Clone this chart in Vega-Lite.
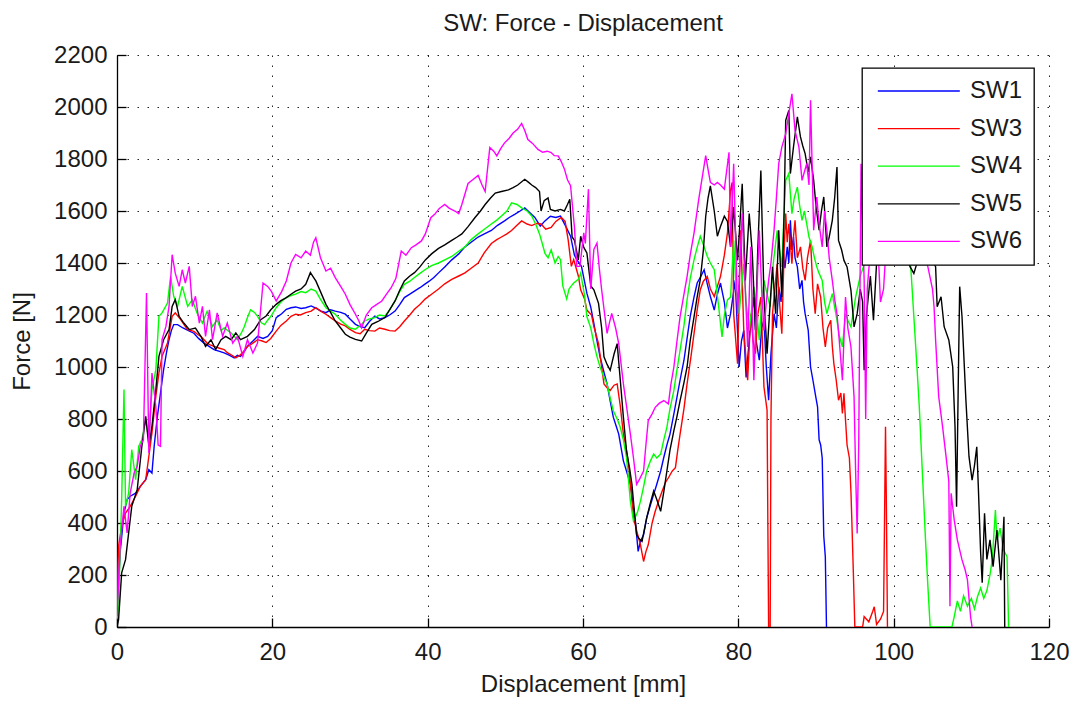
{
  "$schema": "https://vega.github.io/schema/vega-lite/v6.json",
  "width": 932,
  "height": 572,
  "autosize": {"type": "none"},
  "padding": {"left": 117, "top": 55, "right": 27, "bottom": 74},
  "background": "white",
  "title": {"text": "SW: Force - Displacement", "font": "Liberation Sans", "fontSize": 24, "fontWeight": "normal", "color": "#1a1a1a", "anchor": "middle", "frame": "group", "offset": 7},
  "data": {"values": [
    {"s":"SW1","d":0,"f":60},{"s":"SW1","d":0.2,"f":160},{"s":"SW1","d":0.4,"f":285},{"s":"SW1","d":0.9,"f":438},{"s":"SW1","d":1.3,"f":490},{"s":"SW1","d":1.7,"f":503},{"s":"SW1","d":2.4,"f":515},{"s":"SW1","d":3.0,"f":541},{"s":"SW1","d":3.7,"f":567},{"s":"SW1","d":4.1,"f":605},{"s":"SW1","d":4.5,"f":592},{"s":"SW1","d":4.8,"f":700},{"s":"SW1","d":5.2,"f":810},{"s":"SW1","d":5.6,"f":900},{"s":"SW1","d":6.0,"f":990},{"s":"SW1","d":6.4,"f":1060},{"s":"SW1","d":6.7,"f":1105},{"s":"SW1","d":7.0,"f":1140},{"s":"SW1","d":7.3,"f":1163},{"s":"SW1","d":7.8,"f":1163},{"s":"SW1","d":8.5,"f":1150},{"s":"SW1","d":9.2,"f":1140},{"s":"SW1","d":9.9,"f":1130},{"s":"SW1","d":10.5,"f":1110},{"s":"SW1","d":11.2,"f":1092},{"s":"SW1","d":11.8,"f":1080},{"s":"SW1","d":12.5,"f":1067},{"s":"SW1","d":13.2,"f":1060},{"s":"SW1","d":13.8,"f":1054},{"s":"SW1","d":14.5,"f":1045},{"s":"SW1","d":15.1,"f":1035},{"s":"SW1","d":15.5,"f":1045},{"s":"SW1","d":15.9,"f":1041},{"s":"SW1","d":16.4,"f":1060},{"s":"SW1","d":16.8,"f":1080},{"s":"SW1","d":17.5,"f":1100},{"s":"SW1","d":18.1,"f":1118},{"s":"SW1","d":18.8,"f":1110},{"s":"SW1","d":19.4,"f":1118},{"s":"SW1","d":20.0,"f":1140},{"s":"SW1","d":20.5,"f":1190},{"s":"SW1","d":21.2,"f":1205},{"s":"SW1","d":21.8,"f":1222},{"s":"SW1","d":22.4,"f":1228},{"s":"SW1","d":23.0,"f":1231},{"s":"SW1","d":23.7,"f":1225},{"s":"SW1","d":24.3,"f":1228},{"s":"SW1","d":25.0,"f":1235},{"s":"SW1","d":25.6,"f":1226},{"s":"SW1","d":26.3,"f":1215},{"s":"SW1","d":26.9,"f":1209},{"s":"SW1","d":27.5,"f":1220},{"s":"SW1","d":28.1,"f":1215},{"s":"SW1","d":28.8,"f":1210},{"s":"SW1","d":29.4,"f":1203},{"s":"SW1","d":30.0,"f":1185},{"s":"SW1","d":30.7,"f":1164},{"s":"SW1","d":31.3,"f":1155},{"s":"SW1","d":31.9,"f":1151},{"s":"SW1","d":32.5,"f":1175},{"s":"SW1","d":33.2,"f":1196},{"s":"SW1","d":33.8,"f":1185},{"s":"SW1","d":34.5,"f":1190},{"s":"SW1","d":35.1,"f":1200},{"s":"SW1","d":35.8,"f":1215},{"s":"SW1","d":36.4,"f":1240},{"s":"SW1","d":37.0,"f":1267},{"s":"SW1","d":37.7,"f":1280},{"s":"SW1","d":38.3,"f":1292},{"s":"SW1","d":39.0,"f":1305},{"s":"SW1","d":39.6,"f":1318},{"s":"SW1","d":40.2,"f":1330},{"s":"SW1","d":40.8,"f":1344},{"s":"SW1","d":41.4,"f":1362},{"s":"SW1","d":42.2,"f":1385},{"s":"SW1","d":43.1,"f":1412},{"s":"SW1","d":44.0,"f":1435},{"s":"SW1","d":44.8,"f":1462},{"s":"SW1","d":45.6,"f":1480},{"s":"SW1","d":46.5,"f":1500},{"s":"SW1","d":47.3,"f":1512},{"s":"SW1","d":48.2,"f":1525},{"s":"SW1","d":49.0,"f":1545},{"s":"SW1","d":49.9,"f":1562},{"s":"SW1","d":50.5,"f":1575},{"s":"SW1","d":51.2,"f":1587},{"s":"SW1","d":51.9,"f":1600},{"s":"SW1","d":52.5,"f":1612},{"s":"SW1","d":53.1,"f":1595},{"s":"SW1","d":53.8,"f":1575},{"s":"SW1","d":54.5,"f":1542},{"s":"SW1","d":55.1,"f":1562},{"s":"SW1","d":55.8,"f":1580},{"s":"SW1","d":56.5,"f":1575},{"s":"SW1","d":57.1,"f":1580},{"s":"SW1","d":57.8,"f":1540},{"s":"SW1","d":58.4,"f":1503},{"s":"SW1","d":58.9,"f":1430},{"s":"SW1","d":59.2,"f":1413},{"s":"SW1","d":59.8,"f":1387},{"s":"SW1","d":60.5,"f":1284},{"s":"SW1","d":61.0,"f":1230},{"s":"SW1","d":61.4,"f":1168},{"s":"SW1","d":61.8,"f":1100},{"s":"SW1","d":62.2,"f":1039},{"s":"SW1","d":62.7,"f":980},{"s":"SW1","d":63.1,"f":935},{"s":"SW1","d":63.5,"f":870},{"s":"SW1","d":63.9,"f":807},{"s":"SW1","d":64.3,"f":770},{"s":"SW1","d":64.6,"f":742},{"s":"SW1","d":65.2,"f":639},{"s":"SW1","d":65.6,"f":600},{"s":"SW1","d":66.1,"f":549},{"s":"SW1","d":66.4,"f":480},{"s":"SW1","d":66.7,"f":420},{"s":"SW1","d":67.1,"f":291},{"s":"SW1","d":67.4,"f":330},{"s":"SW1","d":67.8,"f":355},{"s":"SW1","d":68.2,"f":420},{"s":"SW1","d":68.7,"f":471},{"s":"SW1","d":69.1,"f":510},{"s":"SW1","d":69.5,"f":549},{"s":"SW1","d":70.0,"f":600},{"s":"SW1","d":70.4,"f":652},{"s":"SW1","d":70.8,"f":700},{"s":"SW1","d":71.2,"f":742},{"s":"SW1","d":71.7,"f":820},{"s":"SW1","d":72.1,"f":884},{"s":"SW1","d":72.5,"f":950},{"s":"SW1","d":73.0,"f":1026},{"s":"SW1","d":73.4,"f":1110},{"s":"SW1","d":73.8,"f":1194},{"s":"SW1","d":74.3,"f":1270},{"s":"SW1","d":74.7,"f":1323},{"s":"SW1","d":75.2,"f":1350},{"s":"SW1","d":75.6,"f":1374},{"s":"SW1","d":76.0,"f":1320},{"s":"SW1","d":76.4,"f":1271},{"s":"SW1","d":76.9,"f":1219},{"s":"SW1","d":77.3,"f":1280},{"s":"SW1","d":77.7,"f":1323},{"s":"SW1","d":78.2,"f":1250},{"s":"SW1","d":78.6,"f":1150},{"s":"SW1","d":79.0,"f":1205},{"s":"SW1","d":79.6,"f":1333},{"s":"SW1","d":80.1,"f":1000},{"s":"SW1","d":80.4,"f":1100},{"s":"SW1","d":80.7,"f":1141},{"s":"SW1","d":81.0,"f":960},{"s":"SW1","d":81.4,"f":1103},{"s":"SW1","d":81.7,"f":1200},{"s":"SW1","d":82.0,"f":1269},{"s":"SW1","d":82.3,"f":1100},{"s":"SW1","d":82.7,"f":1026},{"s":"SW1","d":83.0,"f":1150},{"s":"SW1","d":83.3,"f":1180},{"s":"SW1","d":83.6,"f":1000},{"s":"SW1","d":83.9,"f":872},{"s":"SW1","d":84.2,"f":1050},{"s":"SW1","d":84.6,"f":1205},{"s":"SW1","d":84.9,"f":1150},{"s":"SW1","d":85.2,"f":1308},{"s":"SW1","d":85.5,"f":1250},{"s":"SW1","d":85.8,"f":1436},{"s":"SW1","d":86.0,"f":1380},{"s":"SW1","d":86.3,"f":1462},{"s":"SW1","d":86.5,"f":1400},{"s":"SW1","d":86.7,"f":1564},{"s":"SW1","d":86.9,"f":1450},{"s":"SW1","d":87.1,"f":1500},{"s":"SW1","d":87.3,"f":1420},{"s":"SW1","d":87.6,"f":1385},{"s":"SW1","d":87.9,"f":1300},{"s":"SW1","d":88.2,"f":1333},{"s":"SW1","d":88.4,"f":1250},{"s":"SW1","d":88.6,"f":1205},{"s":"SW1","d":89.0,"f":1141},{"s":"SW1","d":89.3,"f":1000},{"s":"SW1","d":89.6,"f":950},{"s":"SW1","d":90.0,"f":880},{"s":"SW1","d":90.2,"f":847},{"s":"SW1","d":90.4,"f":720},{"s":"SW1","d":90.6,"f":700},{"s":"SW1","d":90.8,"f":650},{"s":"SW1","d":91.0,"f":350},{"s":"SW1","d":91.2,"f":270},{"s":"SW1","d":91.35,"f":0},

    {"s":"SW3","d":0,"f":105},{"s":"SW3","d":0.2,"f":310},{"s":"SW3","d":0.6,"f":387},{"s":"SW3","d":1.1,"f":438},{"s":"SW3","d":1.7,"f":464},{"s":"SW3","d":2.4,"f":503},{"s":"SW3","d":3.0,"f":541},{"s":"SW3","d":3.7,"f":567},{"s":"SW3","d":4.1,"f":656},{"s":"SW3","d":4.5,"f":746},{"s":"SW3","d":5.0,"f":887},{"s":"SW3","d":5.4,"f":977},{"s":"SW3","d":5.8,"f":1041},{"s":"SW3","d":6.5,"f":1092},{"s":"SW3","d":7.1,"f":1195},{"s":"SW3","d":7.5,"f":1208},{"s":"SW3","d":8.2,"f":1182},{"s":"SW3","d":8.7,"f":1160},{"s":"SW3","d":9.1,"f":1144},{"s":"SW3","d":9.9,"f":1137},{"s":"SW3","d":10.4,"f":1125},{"s":"SW3","d":10.8,"f":1118},{"s":"SW3","d":11.6,"f":1092},{"s":"SW3","d":12.0,"f":1085},{"s":"SW3","d":12.5,"f":1079},{"s":"SW3","d":13.2,"f":1072},{"s":"SW3","d":13.8,"f":1067},{"s":"SW3","d":14.2,"f":1055},{"s":"SW3","d":14.7,"f":1047},{"s":"SW3","d":15.3,"f":1035},{"s":"SW3","d":15.9,"f":1047},{"s":"SW3","d":16.3,"f":1060},{"s":"SW3","d":16.8,"f":1079},{"s":"SW3","d":17.4,"f":1090},{"s":"SW3","d":18.1,"f":1105},{"s":"SW3","d":18.7,"f":1100},{"s":"SW3","d":19.2,"f":1094},{"s":"SW3","d":19.8,"f":1110},{"s":"SW3","d":20.5,"f":1138},{"s":"SW3","d":21.1,"f":1160},{"s":"SW3","d":21.8,"f":1177},{"s":"SW3","d":22.4,"f":1195},{"s":"SW3","d":23.0,"f":1203},{"s":"SW3","d":23.6,"f":1200},{"s":"SW3","d":24.3,"f":1209},{"s":"SW3","d":25.0,"f":1215},{"s":"SW3","d":25.6,"f":1228},{"s":"SW3","d":26.2,"f":1215},{"s":"SW3","d":26.9,"f":1203},{"s":"SW3","d":27.5,"f":1190},{"s":"SW3","d":28.1,"f":1177},{"s":"SW3","d":28.8,"f":1165},{"s":"SW3","d":29.4,"f":1158},{"s":"SW3","d":30.0,"f":1145},{"s":"SW3","d":30.7,"f":1132},{"s":"SW3","d":31.3,"f":1128},{"s":"SW3","d":31.9,"f":1145},{"s":"SW3","d":32.5,"f":1140},{"s":"SW3","d":33.2,"f":1138},{"s":"SW3","d":33.8,"f":1150},{"s":"SW3","d":34.5,"f":1145},{"s":"SW3","d":35.1,"f":1140},{"s":"SW3","d":35.8,"f":1138},{"s":"SW3","d":36.4,"f":1155},{"s":"SW3","d":37.0,"f":1177},{"s":"SW3","d":37.7,"f":1200},{"s":"SW3","d":38.3,"f":1222},{"s":"SW3","d":39.0,"f":1240},{"s":"SW3","d":39.7,"f":1262},{"s":"SW3","d":40.5,"f":1280},{"s":"SW3","d":41.4,"f":1300},{"s":"SW3","d":42.2,"f":1320},{"s":"SW3","d":43.1,"f":1337},{"s":"SW3","d":44.0,"f":1350},{"s":"SW3","d":44.8,"f":1362},{"s":"SW3","d":45.6,"f":1380},{"s":"SW3","d":46.5,"f":1400},{"s":"SW3","d":47.3,"f":1440},{"s":"SW3","d":48.2,"f":1475},{"s":"SW3","d":48.9,"f":1490},{"s":"SW3","d":49.5,"f":1500},{"s":"SW3","d":50.2,"f":1512},{"s":"SW3","d":50.8,"f":1525},{"s":"SW3","d":51.5,"f":1545},{"s":"SW3","d":52.1,"f":1562},{"s":"SW3","d":52.8,"f":1550},{"s":"SW3","d":53.4,"f":1544},{"s":"SW3","d":54.0,"f":1552},{"s":"SW3","d":54.6,"f":1550},{"s":"SW3","d":55.2,"f":1530},{"s":"SW3","d":55.9,"f":1537},{"s":"SW3","d":56.5,"f":1560},{"s":"SW3","d":57.2,"f":1575},{"s":"SW3","d":57.7,"f":1560},{"s":"SW3","d":58.1,"f":1487},{"s":"SW3","d":58.5,"f":1387},{"s":"SW3","d":58.8,"f":1413},{"s":"SW3","d":59.4,"f":1350},{"s":"SW3","d":59.7,"f":1297},{"s":"SW3","d":60.2,"f":1262},{"s":"SW3","d":60.5,"f":1219},{"s":"SW3","d":61.1,"f":1200},{"s":"SW3","d":61.4,"f":1155},{"s":"SW3","d":62.0,"f":1090},{"s":"SW3","d":62.4,"f":1000},{"s":"SW3","d":62.7,"f":935},{"s":"SW3","d":63.1,"f":920},{"s":"SW3","d":63.5,"f":910},{"s":"SW3","d":64.0,"f":930},{"s":"SW3","d":64.4,"f":935},{"s":"SW3","d":64.8,"f":850},{"s":"SW3","d":65.2,"f":742},{"s":"SW3","d":65.6,"f":680},{"s":"SW3","d":65.9,"f":613},{"s":"SW3","d":66.2,"f":520},{"s":"SW3","d":66.5,"f":420},{"s":"SW3","d":67.0,"f":360},{"s":"SW3","d":67.4,"f":316},{"s":"SW3","d":67.8,"f":252},{"s":"SW3","d":68.1,"f":290},{"s":"SW3","d":68.4,"f":316},{"s":"SW3","d":68.9,"f":400},{"s":"SW3","d":69.3,"f":445},{"s":"SW3","d":69.8,"f":490},{"s":"SW3","d":70.2,"f":523},{"s":"SW3","d":70.6,"f":555},{"s":"SW3","d":71.0,"f":574},{"s":"SW3","d":71.5,"f":600},{"s":"SW3","d":71.9,"f":613},{"s":"SW3","d":72.2,"f":680},{"s":"SW3","d":72.5,"f":742},{"s":"SW3","d":73.0,"f":840},{"s":"SW3","d":73.4,"f":935},{"s":"SW3","d":73.9,"f":1040},{"s":"SW3","d":74.3,"f":1129},{"s":"SW3","d":74.7,"f":1220},{"s":"SW3","d":75.1,"f":1297},{"s":"SW3","d":75.5,"f":1330},{"s":"SW3","d":76.0,"f":1348},{"s":"SW3","d":76.4,"f":1300},{"s":"SW3","d":76.9,"f":1271},{"s":"SW3","d":77.3,"f":1310},{"s":"SW3","d":77.7,"f":1348},{"s":"SW3","d":78.2,"f":1430},{"s":"SW3","d":78.6,"f":1516},{"s":"SW3","d":79.0,"f":1680},{"s":"SW3","d":79.2,"f":1710},{"s":"SW3","d":79.4,"f":1205},{"s":"SW3","d":79.9,"f":1013},{"s":"SW3","d":80.3,"f":1526},{"s":"SW3","d":80.7,"f":1141},{"s":"SW3","d":81.2,"f":949},{"s":"SW3","d":81.6,"f":1205},{"s":"SW3","d":81.9,"f":1100},{"s":"SW3","d":82.2,"f":1051},{"s":"SW3","d":82.5,"f":1200},{"s":"SW3","d":82.9,"f":1269},{"s":"SW3","d":83.3,"f":923},{"s":"SW3","d":83.7,"f":834},{"s":"SW3","d":83.8,"f":400},{"s":"SW3","d":83.9,"f":0},{"s":"SW3","d":84.1,"f":0},{"s":"SW3","d":84.2,"f":800},{"s":"SW3","d":84.4,"f":1205},{"s":"SW3","d":84.7,"f":1300},{"s":"SW3","d":85.0,"f":1397},{"s":"SW3","d":85.3,"f":1250},{"s":"SW3","d":85.6,"f":1128},{"s":"SW3","d":85.9,"f":1450},{"s":"SW3","d":86.1,"f":1590},{"s":"SW3","d":86.3,"f":1480},{"s":"SW3","d":86.5,"f":1551},{"s":"SW3","d":86.9,"f":1397},{"s":"SW3","d":87.1,"f":1500},{"s":"SW3","d":87.3,"f":1564},{"s":"SW3","d":87.6,"f":1420},{"s":"SW3","d":88.0,"f":1462},{"s":"SW3","d":88.3,"f":1380},{"s":"SW3","d":88.6,"f":1333},{"s":"SW3","d":88.9,"f":1420},{"s":"SW3","d":89.3,"f":1487},{"s":"SW3","d":89.6,"f":1300},{"s":"SW3","d":89.9,"f":1205},{"s":"SW3","d":90.2,"f":1320},{"s":"SW3","d":90.6,"f":1269},{"s":"SW3","d":90.9,"f":1150},{"s":"SW3","d":91.2,"f":1077},{"s":"SW3","d":91.5,"f":1150},{"s":"SW3","d":91.9,"f":1180},{"s":"SW3","d":92.1,"f":1080},{"s":"SW3","d":92.3,"f":1013},{"s":"SW3","d":92.6,"f":950},{"s":"SW3","d":92.9,"f":872},{"s":"SW3","d":93.2,"f":900},{"s":"SW3","d":93.4,"f":821},{"s":"SW3","d":93.6,"f":899},{"s":"SW3","d":93.8,"f":796},{"s":"SW3","d":94.0,"f":700},{"s":"SW3","d":94.3,"f":650},{"s":"SW3","d":94.5,"f":520},{"s":"SW3","d":94.6,"f":424},{"s":"SW3","d":94.8,"f":219},{"s":"SW3","d":95.0,"f":0},{"s":"SW3","d":96.0,"f":0},{"s":"SW3","d":96.2,"f":40},{"s":"SW3","d":96.8,"f":20},{"s":"SW3","d":97.3,"f":60},{"s":"SW3","d":97.5,"f":78},{"s":"SW3","d":97.8,"f":10},{"s":"SW3","d":98.3,"f":30},{"s":"SW3","d":98.7,"f":60},{"s":"SW3","d":98.95,"f":770},{"s":"SW3","d":99.05,"f":508},{"s":"SW3","d":99.2,"f":0},

    {"s":"SW4","d":0,"f":30},{"s":"SW4","d":0.2,"f":80},{"s":"SW4","d":0.6,"f":490},{"s":"SW4","d":0.9,"f":913},{"s":"SW4","d":1.1,"f":464},{"s":"SW4","d":1.5,"f":515},{"s":"SW4","d":1.9,"f":682},{"s":"SW4","d":2.4,"f":567},{"s":"SW4","d":2.8,"f":695},{"s":"SW4","d":3.2,"f":720},{"s":"SW4","d":3.7,"f":797},{"s":"SW4","d":4.1,"f":720},{"s":"SW4","d":4.5,"f":913},{"s":"SW4","d":5.0,"f":990},{"s":"SW4","d":5.4,"f":1195},{"s":"SW4","d":5.8,"f":1208},{"s":"SW4","d":6.5,"f":1246},{"s":"SW4","d":6.9,"f":1349},{"s":"SW4","d":7.3,"f":1272},{"s":"SW4","d":7.8,"f":1233},{"s":"SW4","d":8.4,"f":1310},{"s":"SW4","d":9.1,"f":1233},{"s":"SW4","d":9.7,"f":1259},{"s":"SW4","d":10.3,"f":1208},{"s":"SW4","d":11.0,"f":1169},{"s":"SW4","d":11.6,"f":1214},{"s":"SW4","d":12.3,"f":1156},{"s":"SW4","d":12.9,"f":1182},{"s":"SW4","d":13.4,"f":1140},{"s":"SW4","d":13.8,"f":1150},{"s":"SW4","d":14.7,"f":1131},{"s":"SW4","d":15.5,"f":1105},{"s":"SW4","d":16.0,"f":1130},{"s":"SW4","d":16.4,"f":1156},{"s":"SW4","d":16.8,"f":1190},{"s":"SW4","d":17.2,"f":1220},{"s":"SW4","d":17.7,"f":1210},{"s":"SW4","d":18.1,"f":1195},{"s":"SW4","d":18.6,"f":1170},{"s":"SW4","d":19.0,"f":1163},{"s":"SW4","d":19.4,"f":1180},{"s":"SW4","d":19.8,"f":1195},{"s":"SW4","d":20.5,"f":1228},{"s":"SW4","d":21.1,"f":1250},{"s":"SW4","d":21.8,"f":1267},{"s":"SW4","d":22.4,"f":1275},{"s":"SW4","d":23.0,"f":1280},{"s":"SW4","d":23.7,"f":1290},{"s":"SW4","d":24.3,"f":1286},{"s":"SW4","d":25.0,"f":1300},{"s":"SW4","d":25.6,"f":1292},{"s":"SW4","d":26.2,"f":1260},{"s":"SW4","d":26.9,"f":1228},{"s":"SW4","d":27.5,"f":1215},{"s":"SW4","d":28.1,"f":1203},{"s":"SW4","d":28.8,"f":1180},{"s":"SW4","d":29.4,"f":1164},{"s":"SW4","d":30.0,"f":1150},{"s":"SW4","d":30.7,"f":1145},{"s":"SW4","d":31.3,"f":1160},{"s":"SW4","d":31.9,"f":1177},{"s":"SW4","d":32.5,"f":1185},{"s":"SW4","d":33.2,"f":1190},{"s":"SW4","d":33.8,"f":1200},{"s":"SW4","d":34.5,"f":1196},{"s":"SW4","d":35.1,"f":1220},{"s":"SW4","d":35.8,"f":1254},{"s":"SW4","d":36.4,"f":1290},{"s":"SW4","d":37.0,"f":1318},{"s":"SW4","d":37.7,"f":1330},{"s":"SW4","d":38.3,"f":1344},{"s":"SW4","d":39.0,"f":1360},{"s":"SW4","d":39.7,"f":1375},{"s":"SW4","d":40.5,"f":1390},{"s":"SW4","d":41.4,"f":1400},{"s":"SW4","d":42.2,"f":1412},{"s":"SW4","d":43.1,"f":1425},{"s":"SW4","d":44.0,"f":1445},{"s":"SW4","d":44.8,"f":1462},{"s":"SW4","d":45.6,"f":1490},{"s":"SW4","d":46.5,"f":1512},{"s":"SW4","d":47.3,"f":1530},{"s":"SW4","d":48.2,"f":1550},{"s":"SW4","d":48.9,"f":1565},{"s":"SW4","d":49.5,"f":1581},{"s":"SW4","d":50.2,"f":1600},{"s":"SW4","d":50.8,"f":1631},{"s":"SW4","d":51.5,"f":1625},{"s":"SW4","d":52.1,"f":1612},{"s":"SW4","d":52.8,"f":1600},{"s":"SW4","d":53.4,"f":1581},{"s":"SW4","d":53.9,"f":1550},{"s":"SW4","d":54.4,"f":1512},{"s":"SW4","d":54.8,"f":1470},{"s":"SW4","d":55.1,"f":1437},{"s":"SW4","d":55.5,"f":1420},{"s":"SW4","d":55.9,"f":1450},{"s":"SW4","d":56.4,"f":1400},{"s":"SW4","d":56.8,"f":1425},{"s":"SW4","d":57.1,"f":1413},{"s":"SW4","d":57.4,"f":1312},{"s":"SW4","d":57.9,"f":1262},{"s":"SW4","d":58.2,"f":1300},{"s":"SW4","d":58.5,"f":1312},{"s":"SW4","d":58.8,"f":1323},{"s":"SW4","d":59.4,"f":1337},{"s":"SW4","d":59.7,"f":1361},{"s":"SW4","d":60.2,"f":1275},{"s":"SW4","d":60.5,"f":1194},{"s":"SW4","d":61.0,"f":1150},{"s":"SW4","d":61.4,"f":1090},{"s":"SW4","d":61.8,"f":1040},{"s":"SW4","d":62.2,"f":1000},{"s":"SW4","d":62.7,"f":960},{"s":"SW4","d":63.1,"f":935},{"s":"SW4","d":63.5,"f":880},{"s":"SW4","d":63.9,"f":832},{"s":"SW4","d":64.4,"f":800},{"s":"SW4","d":64.8,"f":768},{"s":"SW4","d":65.2,"f":720},{"s":"SW4","d":65.6,"f":652},{"s":"SW4","d":66.1,"f":484},{"s":"SW4","d":66.5,"f":407},{"s":"SW4","d":67.0,"f":440},{"s":"SW4","d":67.4,"f":484},{"s":"SW4","d":67.8,"f":540},{"s":"SW4","d":68.2,"f":600},{"s":"SW4","d":68.7,"f":640},{"s":"SW4","d":69.1,"f":665},{"s":"SW4","d":69.5,"f":650},{"s":"SW4","d":70.0,"f":665},{"s":"SW4","d":70.4,"f":720},{"s":"SW4","d":70.8,"f":768},{"s":"SW4","d":71.2,"f":840},{"s":"SW4","d":71.7,"f":910},{"s":"SW4","d":72.1,"f":990},{"s":"SW4","d":72.5,"f":1065},{"s":"SW4","d":73.0,"f":1160},{"s":"SW4","d":73.4,"f":1258},{"s":"SW4","d":73.8,"f":1340},{"s":"SW4","d":74.3,"f":1413},{"s":"SW4","d":74.7,"f":1460},{"s":"SW4","d":75.1,"f":1503},{"s":"SW4","d":75.5,"f":1470},{"s":"SW4","d":76.0,"f":1426},{"s":"SW4","d":76.4,"f":1400},{"s":"SW4","d":76.9,"f":1374},{"s":"SW4","d":77.4,"f":1250},{"s":"SW4","d":77.9,"f":1116},{"s":"SW4","d":78.2,"f":1200},{"s":"SW4","d":78.6,"f":1258},{"s":"SW4","d":79.0,"f":1269},{"s":"SW4","d":79.4,"f":1487},{"s":"SW4","d":79.7,"f":1300},{"s":"SW4","d":80.1,"f":1205},{"s":"SW4","d":80.4,"f":1300},{"s":"SW4","d":80.7,"f":1397},{"s":"SW4","d":81.0,"f":1250},{"s":"SW4","d":81.4,"f":1141},{"s":"SW4","d":81.7,"f":1220},{"s":"SW4","d":82.0,"f":1308},{"s":"SW4","d":82.4,"f":1200},{"s":"SW4","d":82.7,"f":1103},{"s":"SW4","d":83.0,"f":1250},{"s":"SW4","d":83.3,"f":1333},{"s":"SW4","d":83.7,"f":1280},{"s":"SW4","d":84.1,"f":1231},{"s":"SW4","d":84.5,"f":1400},{"s":"SW4","d":85.0,"f":1526},{"s":"SW4","d":85.3,"f":1450},{"s":"SW4","d":85.6,"f":1385},{"s":"SW4","d":85.9,"f":1600},{"s":"SW4","d":86.1,"f":1718},{"s":"SW4","d":86.5,"f":1744},{"s":"SW4","d":86.9,"f":1590},{"s":"SW4","d":87.2,"f":1650},{"s":"SW4","d":87.6,"f":1692},{"s":"SW4","d":87.9,"f":1620},{"s":"SW4","d":88.2,"f":1564},{"s":"SW4","d":88.5,"f":1600},{"s":"SW4","d":88.8,"f":1551},{"s":"SW4","d":89.1,"f":1500},{"s":"SW4","d":89.5,"f":1462},{"s":"SW4","d":89.8,"f":1420},{"s":"SW4","d":90.1,"f":1385},{"s":"SW4","d":90.4,"f":1360},{"s":"SW4","d":90.8,"f":1333},{"s":"SW4","d":91.1,"f":1250},{"s":"SW4","d":91.4,"f":1205},{"s":"SW4","d":91.7,"f":1240},{"s":"SW4","d":92.1,"f":1282},{"s":"SW4","d":92.4,"f":1230},{"s":"SW4","d":92.7,"f":1180},{"s":"SW4","d":93.0,"f":1120},{"s":"SW4","d":93.4,"f":1077},{"s":"SW4","d":93.8,"f":1205},{"s":"SW4","d":94.1,"f":1180},{"s":"SW4","d":94.5,"f":1154},{"s":"SW4","d":95.1,"f":1269},{"s":"SW4","d":95.7,"f":1350},{"s":"SW4","d":96.5,"f":1420},{"s":"SW4","d":97.5,"f":1450},{"s":"SW4","d":98.5,"f":1480},{"s":"SW4","d":99.5,"f":1500},{"s":"SW4","d":100.5,"f":1480},{"s":"SW4","d":101.3,"f":1450},{"s":"SW4","d":101.8,"f":1420},{"s":"SW4","d":102.2,"f":1386},{"s":"SW4","d":102.6,"f":1193},{"s":"SW4","d":103.0,"f":1000},{"s":"SW4","d":103.3,"f":847},{"s":"SW4","d":103.7,"f":591},{"s":"SW4","d":104.1,"f":335},{"s":"SW4","d":104.4,"f":160},{"s":"SW4","d":104.7,"f":0},{"s":"SW4","d":106.0,"f":0},{"s":"SW4","d":107.5,"f":0},{"s":"SW4","d":107.8,"f":40},{"s":"SW4","d":108.2,"f":100},{"s":"SW4","d":108.6,"f":60},{"s":"SW4","d":109.0,"f":120},{"s":"SW4","d":109.5,"f":80},{"s":"SW4","d":110.0,"f":110},{"s":"SW4","d":110.4,"f":70},{"s":"SW4","d":110.8,"f":117},{"s":"SW4","d":111.2,"f":150},{"s":"SW4","d":111.6,"f":110},{"s":"SW4","d":112.0,"f":140},{"s":"SW4","d":112.4,"f":200},{"s":"SW4","d":112.7,"f":260},{"s":"SW4","d":113.1,"f":450},{"s":"SW4","d":113.3,"f":335},{"s":"SW4","d":113.7,"f":380},{"s":"SW4","d":114.1,"f":300},{"s":"SW4","d":114.6,"f":270},{"s":"SW4","d":114.8,"f":0},

    {"s":"SW5","d":0,"f":0},{"s":"SW5","d":0.2,"f":28},{"s":"SW5","d":0.6,"f":208},{"s":"SW5","d":1.1,"f":259},{"s":"SW5","d":1.5,"f":362},{"s":"SW5","d":1.9,"f":464},{"s":"SW5","d":2.6,"f":528},{"s":"SW5","d":3.2,"f":695},{"s":"SW5","d":3.7,"f":810},{"s":"SW5","d":4.1,"f":695},{"s":"SW5","d":4.5,"f":772},{"s":"SW5","d":5.0,"f":913},{"s":"SW5","d":5.4,"f":1041},{"s":"SW5","d":6.0,"f":1105},{"s":"SW5","d":6.7,"f":1144},{"s":"SW5","d":7.1,"f":1233},{"s":"SW5","d":7.5,"f":1259},{"s":"SW5","d":8.0,"f":1195},{"s":"SW5","d":8.6,"f":1169},{"s":"SW5","d":9.3,"f":1144},{"s":"SW5","d":10.1,"f":1150},{"s":"SW5","d":10.8,"f":1118},{"s":"SW5","d":11.4,"f":1079},{"s":"SW5","d":12.1,"f":1105},{"s":"SW5","d":12.7,"f":1067},{"s":"SW5","d":13.4,"f":1105},{"s":"SW5","d":14.0,"f":1118},{"s":"SW5","d":14.7,"f":1105},{"s":"SW5","d":15.3,"f":1131},{"s":"SW5","d":15.9,"f":1105},{"s":"SW5","d":16.8,"f":1118},{"s":"SW5","d":17.7,"f":1144},{"s":"SW5","d":18.5,"f":1182},{"s":"SW5","d":19.2,"f":1196},{"s":"SW5","d":19.8,"f":1220},{"s":"SW5","d":20.5,"f":1241},{"s":"SW5","d":21.1,"f":1255},{"s":"SW5","d":21.8,"f":1267},{"s":"SW5","d":22.4,"f":1280},{"s":"SW5","d":23.0,"f":1292},{"s":"SW5","d":23.7,"f":1300},{"s":"SW5","d":24.3,"f":1318},{"s":"SW5","d":24.9,"f":1363},{"s":"SW5","d":25.3,"f":1345},{"s":"SW5","d":25.6,"f":1331},{"s":"SW5","d":26.2,"f":1290},{"s":"SW5","d":26.9,"f":1241},{"s":"SW5","d":27.5,"f":1210},{"s":"SW5","d":28.1,"f":1177},{"s":"SW5","d":28.8,"f":1150},{"s":"SW5","d":29.4,"f":1126},{"s":"SW5","d":30.0,"f":1115},{"s":"SW5","d":30.7,"f":1106},{"s":"SW5","d":31.5,"f":1100},{"s":"SW5","d":32.1,"f":1130},{"s":"SW5","d":32.8,"f":1164},{"s":"SW5","d":33.6,"f":1175},{"s":"SW5","d":34.5,"f":1190},{"s":"SW5","d":35.1,"f":1220},{"s":"SW5","d":35.8,"f":1254},{"s":"SW5","d":36.4,"f":1295},{"s":"SW5","d":37.0,"f":1331},{"s":"SW5","d":37.7,"f":1350},{"s":"SW5","d":38.3,"f":1363},{"s":"SW5","d":39.0,"f":1385},{"s":"SW5","d":39.7,"f":1412},{"s":"SW5","d":40.5,"f":1435},{"s":"SW5","d":41.4,"f":1456},{"s":"SW5","d":42.2,"f":1470},{"s":"SW5","d":43.1,"f":1487},{"s":"SW5","d":43.8,"f":1500},{"s":"SW5","d":44.4,"f":1512},{"s":"SW5","d":45.2,"f":1540},{"s":"SW5","d":46.1,"f":1575},{"s":"SW5","d":46.8,"f":1600},{"s":"SW5","d":47.4,"f":1625},{"s":"SW5","d":48.1,"f":1650},{"s":"SW5","d":48.7,"f":1669},{"s":"SW5","d":49.5,"f":1675},{"s":"SW5","d":50.4,"f":1681},{"s":"SW5","d":51.0,"f":1690},{"s":"SW5","d":51.6,"f":1700},{"s":"SW5","d":52.5,"f":1722},{"s":"SW5","d":53.0,"f":1710},{"s":"SW5","d":53.4,"f":1700},{"s":"SW5","d":53.9,"f":1690},{"s":"SW5","d":54.4,"f":1675},{"s":"SW5","d":54.6,"f":1600},{"s":"SW5","d":55.0,"f":1640},{"s":"SW5","d":55.5,"f":1650},{"s":"SW5","d":55.8,"f":1606},{"s":"SW5","d":56.4,"f":1600},{"s":"SW5","d":57.1,"f":1606},{"s":"SW5","d":57.6,"f":1600},{"s":"SW5","d":58.0,"f":1625},{"s":"SW5","d":58.3,"f":1645},{"s":"SW5","d":58.6,"f":1500},{"s":"SW5","d":58.9,"f":1487},{"s":"SW5","d":59.4,"f":1412},{"s":"SW5","d":59.7,"f":1503},{"s":"SW5","d":60.1,"f":1460},{"s":"SW5","d":60.5,"f":1439},{"s":"SW5","d":61.0,"f":1312},{"s":"SW5","d":61.4,"f":1297},{"s":"SW5","d":62.0,"f":1245},{"s":"SW5","d":62.4,"f":1150},{"s":"SW5","d":62.7,"f":1039},{"s":"SW5","d":63.1,"f":1010},{"s":"SW5","d":63.5,"f":987},{"s":"SW5","d":64.0,"f":1050},{"s":"SW5","d":64.4,"f":1090},{"s":"SW5","d":64.8,"f":950},{"s":"SW5","d":65.2,"f":807},{"s":"SW5","d":65.6,"f":678},{"s":"SW5","d":66.0,"f":610},{"s":"SW5","d":66.3,"f":549},{"s":"SW5","d":66.6,"f":450},{"s":"SW5","d":66.9,"f":355},{"s":"SW5","d":67.2,"f":340},{"s":"SW5","d":67.6,"f":329},{"s":"SW5","d":68.2,"f":420},{"s":"SW5","d":68.7,"f":480},{"s":"SW5","d":69.1,"f":523},{"s":"SW5","d":69.5,"f":490},{"s":"SW5","d":70.0,"f":445},{"s":"SW5","d":70.4,"f":520},{"s":"SW5","d":70.8,"f":600},{"s":"SW5","d":71.2,"f":680},{"s":"SW5","d":71.7,"f":755},{"s":"SW5","d":72.1,"f":810},{"s":"SW5","d":72.5,"f":871},{"s":"SW5","d":73.0,"f":940},{"s":"SW5","d":73.4,"f":1000},{"s":"SW5","d":73.8,"f":1100},{"s":"SW5","d":74.3,"f":1194},{"s":"SW5","d":74.7,"f":1270},{"s":"SW5","d":75.1,"f":1336},{"s":"SW5","d":75.5,"f":1450},{"s":"SW5","d":75.8,"f":1580},{"s":"SW5","d":76.1,"f":1650},{"s":"SW5","d":76.4,"f":1697},{"s":"SW5","d":76.9,"f":1600},{"s":"SW5","d":77.3,"f":1503},{"s":"SW5","d":77.7,"f":1540},{"s":"SW5","d":78.2,"f":1580},{"s":"SW5","d":78.6,"f":1560},{"s":"SW5","d":79.0,"f":1462},{"s":"SW5","d":79.4,"f":1615},{"s":"SW5","d":79.9,"f":1410},{"s":"SW5","d":80.2,"f":1550},{"s":"SW5","d":80.5,"f":1705},{"s":"SW5","d":80.9,"f":1333},{"s":"SW5","d":81.4,"f":1590},{"s":"SW5","d":81.8,"f":1436},{"s":"SW5","d":82.2,"f":1141},{"s":"SW5","d":82.5,"f":1450},{"s":"SW5","d":82.9,"f":1756},{"s":"SW5","d":83.3,"f":1269},{"s":"SW5","d":83.7,"f":1051},{"s":"SW5","d":84.0,"f":1200},{"s":"SW5","d":84.4,"f":1385},{"s":"SW5","d":84.8,"f":1205},{"s":"SW5","d":85.2,"f":1526},{"s":"SW5","d":85.6,"f":1269},{"s":"SW5","d":85.9,"f":1600},{"s":"SW5","d":86.1,"f":1949},{"s":"SW5","d":86.5,"f":1987},{"s":"SW5","d":86.7,"f":1744},{"s":"SW5","d":87.1,"f":1846},{"s":"SW5","d":87.6,"f":1962},{"s":"SW5","d":88.0,"f":1885},{"s":"SW5","d":88.3,"f":1850},{"s":"SW5","d":88.6,"f":1821},{"s":"SW5","d":89.0,"f":1750},{"s":"SW5","d":89.3,"f":1808},{"s":"SW5","d":89.7,"f":1718},{"s":"SW5","d":90.0,"f":1620},{"s":"SW5","d":90.4,"f":1526},{"s":"SW5","d":90.7,"f":1600},{"s":"SW5","d":91.0,"f":1654},{"s":"SW5","d":91.4,"f":1462},{"s":"SW5","d":91.7,"f":1500},{"s":"SW5","d":92.1,"f":1564},{"s":"SW5","d":92.4,"f":1650},{"s":"SW5","d":92.7,"f":1769},{"s":"SW5","d":92.9,"f":1487},{"s":"SW5","d":93.3,"f":1450},{"s":"SW5","d":93.6,"f":1410},{"s":"SW5","d":94.0,"f":1385},{"s":"SW5","d":94.5,"f":1295},{"s":"SW5","d":94.9,"f":1154},{"s":"SW5","d":95.3,"f":1205},{"s":"SW5","d":95.7,"f":1300},{"s":"SW5","d":96.0,"f":1250},{"s":"SW5","d":96.2,"f":988},{"s":"SW5","d":96.5,"f":1200},{"s":"SW5","d":97.0,"f":1350},{"s":"SW5","d":97.4,"f":1180},{"s":"SW5","d":97.8,"f":1400},{"s":"SW5","d":98.5,"f":1450},{"s":"SW5","d":99.5,"f":1500},{"s":"SW5","d":100.5,"f":1480},{"s":"SW5","d":101.5,"f":1450},{"s":"SW5","d":102.1,"f":1386},{"s":"SW5","d":102.6,"f":1360},{"s":"SW5","d":103.2,"f":1420},{"s":"SW5","d":104.0,"f":1450},{"s":"SW5","d":104.8,"f":1420},{"s":"SW5","d":105.4,"f":1386},{"s":"SW5","d":105.6,"f":1232},{"s":"SW5","d":106.1,"f":1270},{"s":"SW5","d":106.5,"f":1155},{"s":"SW5","d":107.1,"f":1104},{"s":"SW5","d":107.6,"f":1001},{"s":"SW5","d":107.9,"f":770},{"s":"SW5","d":108.1,"f":463},{"s":"SW5","d":108.3,"f":900},{"s":"SW5","d":108.5,"f":1309},{"s":"SW5","d":108.8,"f":1193},{"s":"SW5","d":109.3,"f":873},{"s":"SW5","d":109.7,"f":655},{"s":"SW5","d":110.1,"f":565},{"s":"SW5","d":110.4,"f":620},{"s":"SW5","d":110.7,"f":693},{"s":"SW5","d":110.9,"f":540},{"s":"SW5","d":111.2,"f":284},{"s":"SW5","d":111.4,"f":170},{"s":"SW5","d":111.7,"f":437},{"s":"SW5","d":112.0,"f":260},{"s":"SW5","d":112.4,"f":335},{"s":"SW5","d":112.8,"f":232},{"s":"SW5","d":113.3,"f":373},{"s":"SW5","d":113.8,"f":180},{"s":"SW5","d":114.2,"f":424},{"s":"SW5","d":114.3,"f":0},

    {"s":"SW6","d":0,"f":41},{"s":"SW6","d":0.4,"f":310},{"s":"SW6","d":0.9,"f":464},{"s":"SW6","d":1.3,"f":362},{"s":"SW6","d":1.7,"f":515},{"s":"SW6","d":2.2,"f":592},{"s":"SW6","d":2.6,"f":618},{"s":"SW6","d":3.0,"f":695},{"s":"SW6","d":3.4,"f":720},{"s":"SW6","d":3.8,"f":1285},{"s":"SW6","d":4.1,"f":669},{"s":"SW6","d":4.5,"f":977},{"s":"SW6","d":5.0,"f":849},{"s":"SW6","d":5.3,"f":700},{"s":"SW6","d":5.6,"f":695},{"s":"SW6","d":5.8,"f":1105},{"s":"SW6","d":6.3,"f":1156},{"s":"SW6","d":6.7,"f":1233},{"s":"SW6","d":7.1,"f":1432},{"s":"SW6","d":7.5,"f":1361},{"s":"SW6","d":8.0,"f":1310},{"s":"SW6","d":8.4,"f":1374},{"s":"SW6","d":8.8,"f":1323},{"s":"SW6","d":9.3,"f":1387},{"s":"SW6","d":9.7,"f":1233},{"s":"SW6","d":10.1,"f":1272},{"s":"SW6","d":10.6,"f":1169},{"s":"SW6","d":11.0,"f":1233},{"s":"SW6","d":11.4,"f":1118},{"s":"SW6","d":11.9,"f":1220},{"s":"SW6","d":12.3,"f":1105},{"s":"SW6","d":12.9,"f":1208},{"s":"SW6","d":13.6,"f":1118},{"s":"SW6","d":14.2,"f":1169},{"s":"SW6","d":14.9,"f":1092},{"s":"SW6","d":15.5,"f":1118},{"s":"SW6","d":16.2,"f":1041},{"s":"SW6","d":16.8,"f":1105},{"s":"SW6","d":17.5,"f":1054},{"s":"SW6","d":18.1,"f":1092},{"s":"SW6","d":18.8,"f":1323},{"s":"SW6","d":19.4,"f":1310},{"s":"SW6","d":19.9,"f":1290},{"s":"SW6","d":20.5,"f":1254},{"s":"SW6","d":21.2,"f":1290},{"s":"SW6","d":21.8,"f":1331},{"s":"SW6","d":22.4,"f":1400},{"s":"SW6","d":23.0,"f":1433},{"s":"SW6","d":23.7,"f":1420},{"s":"SW6","d":24.3,"f":1446},{"s":"SW6","d":24.9,"f":1430},{"s":"SW6","d":25.3,"f":1480},{"s":"SW6","d":25.6,"f":1497},{"s":"SW6","d":26.2,"f":1420},{"s":"SW6","d":26.9,"f":1369},{"s":"SW6","d":27.5,"f":1380},{"s":"SW6","d":28.1,"f":1344},{"s":"SW6","d":28.8,"f":1310},{"s":"SW6","d":29.4,"f":1280},{"s":"SW6","d":30.0,"f":1240},{"s":"SW6","d":30.7,"f":1203},{"s":"SW6","d":31.1,"f":1180},{"s":"SW6","d":31.5,"f":1151},{"s":"SW6","d":32.1,"f":1200},{"s":"SW6","d":32.8,"f":1228},{"s":"SW6","d":33.4,"f":1240},{"s":"SW6","d":34.1,"f":1254},{"s":"SW6","d":34.7,"f":1280},{"s":"SW6","d":35.3,"f":1305},{"s":"SW6","d":35.9,"f":1340},{"s":"SW6","d":36.6,"f":1446},{"s":"SW6","d":37.2,"f":1430},{"s":"SW6","d":37.9,"f":1459},{"s":"SW6","d":38.5,"f":1470},{"s":"SW6","d":39.2,"f":1485},{"s":"SW6","d":39.7,"f":1512},{"s":"SW6","d":40.4,"f":1574},{"s":"SW6","d":40.9,"f":1587},{"s":"SW6","d":41.5,"f":1610},{"s":"SW6","d":42.2,"f":1625},{"s":"SW6","d":42.8,"f":1610},{"s":"SW6","d":43.5,"f":1600},{"s":"SW6","d":44.0,"f":1590},{"s":"SW6","d":44.4,"f":1625},{"s":"SW6","d":45.2,"f":1706},{"s":"SW6","d":45.8,"f":1720},{"s":"SW6","d":46.5,"f":1737},{"s":"SW6","d":47.0,"f":1700},{"s":"SW6","d":47.4,"f":1675},{"s":"SW6","d":48.0,"f":1844},{"s":"SW6","d":48.5,"f":1830},{"s":"SW6","d":48.9,"f":1812},{"s":"SW6","d":49.4,"f":1840},{"s":"SW6","d":49.9,"f":1862},{"s":"SW6","d":50.5,"f":1880},{"s":"SW6","d":51.0,"f":1900},{"s":"SW6","d":51.6,"f":1915},{"s":"SW6","d":52.1,"f":1937},{"s":"SW6","d":52.5,"f":1910},{"s":"SW6","d":52.9,"f":1875},{"s":"SW6","d":53.5,"f":1860},{"s":"SW6","d":54.2,"f":1837},{"s":"SW6","d":54.8,"f":1826},{"s":"SW6","d":55.4,"f":1830},{"s":"SW6","d":55.9,"f":1825},{"s":"SW6","d":56.3,"f":1813},{"s":"SW6","d":56.8,"f":1812},{"s":"SW6","d":57.2,"f":1790},{"s":"SW6","d":57.6,"f":1762},{"s":"SW6","d":58.0,"f":1720},{"s":"SW6","d":58.4,"f":1697},{"s":"SW6","d":58.7,"f":1600},{"s":"SW6","d":58.9,"f":1537},{"s":"SW6","d":59.2,"f":1387},{"s":"SW6","d":59.6,"f":1387},{"s":"SW6","d":60.1,"f":1516},{"s":"SW6","d":60.3,"f":1475},{"s":"SW6","d":60.7,"f":1684},{"s":"SW6","d":61.0,"f":1300},{"s":"SW6","d":61.4,"f":1452},{"s":"SW6","d":61.8,"f":1477},{"s":"SW6","d":62.1,"f":1380},{"s":"SW6","d":62.4,"f":1297},{"s":"SW6","d":62.8,"f":1200},{"s":"SW6","d":63.1,"f":1129},{"s":"SW6","d":63.4,"f":1170},{"s":"SW6","d":63.7,"f":1206},{"s":"SW6","d":64.2,"f":1150},{"s":"SW6","d":64.6,"f":1090},{"s":"SW6","d":65.2,"f":935},{"s":"SW6","d":65.6,"f":850},{"s":"SW6","d":66.1,"f":742},{"s":"SW6","d":66.5,"f":650},{"s":"SW6","d":66.9,"f":549},{"s":"SW6","d":67.3,"f":570},{"s":"SW6","d":67.8,"f":600},{"s":"SW6","d":68.1,"f":700},{"s":"SW6","d":68.4,"f":794},{"s":"SW6","d":68.9,"f":820},{"s":"SW6","d":69.3,"f":845},{"s":"SW6","d":69.8,"f":860},{"s":"SW6","d":70.4,"f":871},{"s":"SW6","d":71.0,"f":858},{"s":"SW6","d":71.3,"f":930},{"s":"SW6","d":71.7,"f":1000},{"s":"SW6","d":72.1,"f":1100},{"s":"SW6","d":72.5,"f":1194},{"s":"SW6","d":73.0,"f":1280},{"s":"SW6","d":73.4,"f":1348},{"s":"SW6","d":73.8,"f":1430},{"s":"SW6","d":74.3,"f":1516},{"s":"SW6","d":74.9,"f":1645},{"s":"SW6","d":75.3,"f":1720},{"s":"SW6","d":75.8,"f":1813},{"s":"SW6","d":76.1,"f":1760},{"s":"SW6","d":76.4,"f":1710},{"s":"SW6","d":76.9,"f":1700},{"s":"SW6","d":77.3,"f":1710},{"s":"SW6","d":77.7,"f":1700},{"s":"SW6","d":78.2,"f":1684},{"s":"SW6","d":78.8,"f":1826},{"s":"SW6","d":79.0,"f":1462},{"s":"SW6","d":79.4,"f":1782},{"s":"SW6","d":79.9,"f":1205},{"s":"SW6","d":80.5,"f":1590},{"s":"SW6","d":81.2,"f":1077},{"s":"SW6","d":81.6,"f":1462},{"s":"SW6","d":82.0,"f":949},{"s":"SW6","d":82.4,"f":1300},{"s":"SW6","d":82.7,"f":1526},{"s":"SW6","d":83.0,"f":1300},{"s":"SW6","d":83.3,"f":1141},{"s":"SW6","d":83.6,"f":1250},{"s":"SW6","d":83.9,"f":1333},{"s":"SW6","d":84.2,"f":1400},{"s":"SW6","d":84.6,"f":1526},{"s":"SW6","d":84.9,"f":1650},{"s":"SW6","d":85.2,"f":1782},{"s":"SW6","d":85.6,"f":1846},{"s":"SW6","d":86.1,"f":1897},{"s":"SW6","d":86.5,"f":1974},{"s":"SW6","d":86.9,"f":2051},{"s":"SW6","d":87.3,"f":1910},{"s":"SW6","d":87.8,"f":1846},{"s":"SW6","d":88.2,"f":1718},{"s":"SW6","d":88.5,"f":1750},{"s":"SW6","d":88.8,"f":1782},{"s":"SW6","d":89.1,"f":1700},{"s":"SW6","d":89.3,"f":2026},{"s":"SW6","d":89.7,"f":1526},{"s":"SW6","d":90.1,"f":1654},{"s":"SW6","d":90.4,"f":1550},{"s":"SW6","d":90.8,"f":1462},{"s":"SW6","d":91.1,"f":1600},{"s":"SW6","d":91.4,"f":1526},{"s":"SW6","d":91.7,"f":1420},{"s":"SW6","d":92.1,"f":1333},{"s":"SW6","d":92.4,"f":1260},{"s":"SW6","d":92.7,"f":1205},{"s":"SW6","d":93.0,"f":1100},{"s":"SW6","d":93.4,"f":949},{"s":"SW6","d":93.8,"f":1269},{"s":"SW6","d":94.1,"f":1150},{"s":"SW6","d":94.5,"f":1077},{"s":"SW6","d":94.9,"f":885},{"s":"SW6","d":95.1,"f":600},{"s":"SW6","d":95.3,"f":360},{"s":"SW6","d":95.5,"f":700},{"s":"SW6","d":95.8,"f":1782},{"s":"SW6","d":96.2,"f":1333},{"s":"SW6","d":96.4,"f":800},{"s":"SW6","d":96.6,"f":1300},{"s":"SW6","d":97.0,"f":1450},{"s":"SW6","d":97.5,"f":1500},{"s":"SW6","d":98.0,"f":1450},{"s":"SW6","d":98.3,"f":1250},{"s":"SW6","d":98.7,"f":1300},{"s":"SW6","d":99.0,"f":1450},{"s":"SW6","d":100.0,"f":1500},{"s":"SW6","d":101.0,"f":1520},{"s":"SW6","d":102.0,"f":1500},{"s":"SW6","d":103.0,"f":1480},{"s":"SW6","d":103.8,"f":1450},{"s":"SW6","d":104.4,"f":1386},{"s":"SW6","d":105.0,"f":1300},{"s":"SW6","d":105.2,"f":1232},{"s":"SW6","d":105.4,"f":1104},{"s":"SW6","d":105.8,"f":886},{"s":"SW6","d":106.3,"f":770},{"s":"SW6","d":106.7,"f":668},{"s":"SW6","d":107.1,"f":560},{"s":"SW6","d":107.25,"f":80},{"s":"SW6","d":107.4,"f":514},{"s":"SW6","d":107.8,"f":411},{"s":"SW6","d":108.2,"f":335},{"s":"SW6","d":108.8,"f":258},{"s":"SW6","d":109.2,"f":220},{"s":"SW6","d":109.5,"f":181},{"s":"SW6","d":109.9,"f":40},{"s":"SW6","d":110.1,"f":0}
  ]},
  "mark": {"type": "line", "strokeWidth": 1.4, "clip": true},
  "encoding": {
    "x": {"field": "d", "type": "quantitative", "scale": {"domain": [0, 120], "nice": false},
          "axis": {"title": "Displacement [mm]", "values": [0, 20, 40, 60, 80, 100, 120], "format": "d"}},
    "y": {"field": "f", "type": "quantitative", "scale": {"domain": [0, 2200], "nice": false},
          "axis": {"title": "Force [N]", "values": [0, 200, 400, 600, 800, 1000, 1200, 1400, 1600, 1800, 2000, 2200], "format": "d"}},
    "color": {"field": "s", "type": "nominal",
              "scale": {"domain": ["SW1", "SW3", "SW4", "SW5", "SW6"], "range": ["#0000ff", "#ff0000", "#00ff00", "#000000", "#ff00ff"]},
              "legend": {"title": null, "orient": "none", "legendX": 745, "legendY": 13}}
  },
  "config": {
    "view": {"stroke": null},
    "axis": {
      "domainColor": "#000", "domainWidth": 1.3,
      "tickColor": "#000", "tickWidth": 1.3, "tickSize": -9,
      "labelFont": "Liberation Sans", "labelFontSize": 24, "labelColor": "#1a1a1a", "labelFlush": false, "labelOverlap": false,
      "titleFont": "Liberation Sans", "titleFontSize": 24, "titleFontWeight": "normal", "titleColor": "#1a1a1a",
      "grid": true, "gridColor": "#000", "gridDash": [1.5, 8.5], "gridWidth": 1, "gridOpacity": 0.85
    },
    "axisX": {"labelPadding": 22, "titlePadding": 8},
    "axisY": {"labelPadding": 19, "titlePadding": 19},
    "legend": {
      "fillColor": "white", "strokeColor": "#000", "strokeWidth": 1.3, "padding": 11,
      "symbolType": "M-0.7,0H7.3", "symbolSize": 420, "symbolStrokeWidth": 1.3,
      "labelFont": "Liberation Sans", "labelFontSize": 24, "labelColor": "#1a1a1a",
      "labelOffset": 73, "rowPadding": 13.6
    }
  }
}
